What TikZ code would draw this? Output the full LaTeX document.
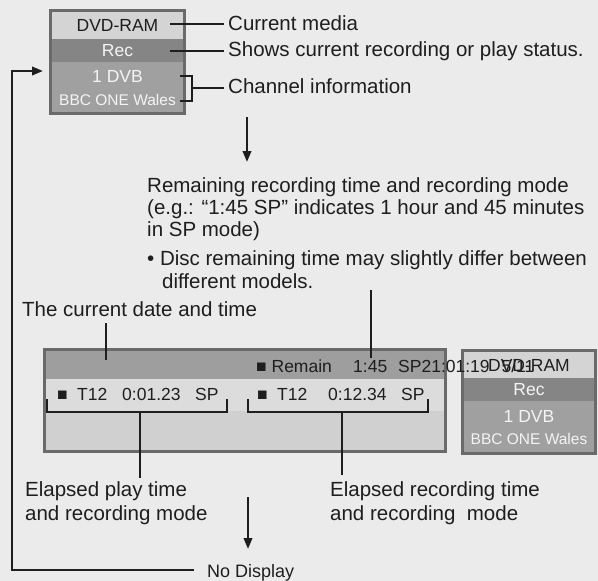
\documentclass[tikz,border=0pt]{standalone}
\usepackage{fontspec}
\setmainfont{Liberation Sans}
\usetikzlibrary{arrows.meta}
\definecolor{bg}{HTML}{EBEBEB}
\definecolor{ink}{HTML}{1E1E1E}
\definecolor{bord}{HTML}{6A6A6A}
\definecolor{rowlight}{HTML}{D4D4D4}
\definecolor{rowrec}{HTML}{858585}
\definecolor{rowlow}{HTML}{A0A0A0}
\definecolor{hdr}{HTML}{9E9E9E}
\definecolor{rowl}{HTML}{DCDCDC}
\definecolor{lowl}{HTML}{D0D0D0}
\definecolor{wtxt}{HTML}{F4F4F4}
\begin{document}
\begin{tikzpicture}[x=1pt,y=-1pt,
  inkline/.style={draw=ink, line width=2.2pt},
  lbl/.style={font=\fontsize{20.5}{22}\selectfont, text=ink, inner sep=0pt, anchor=base west},
  btxt/.style={font=\fontsize{17.5}{18}\selectfont, inner sep=0pt, text=ink},
  smtxt/.style={font=\fontsize{15.5}{16}\selectfont, inner sep=0pt, text=wtxt},
  arr/.style={inkline, -{Triangle[length=11pt,width=8.5pt]}},
  frame/.style={draw=bord, line width=3pt, inner sep=0pt},
]
\fill[bg] (0,0) rectangle (598,581);
\useasboundingbox (0,0) rectangle (598,581);

% ---- top status box ----
\node[frame, fill=rowlow, minimum width=134pt, minimum height=103pt] (topbox) at (117.5,62) {};
\node[btxt, fill=rowlight, minimum width=131pt, minimum height=27pt] (tdvd) at (117.5,25.5) {DVD-RAM};
\node[btxt, fill=rowrec, minimum width=131pt, minimum height=23pt, text=wtxt] (trec) at (117.5,50.5) {Rec};
\node[btxt, text=wtxt] (tdvb) at (117.5,76.5) {1 DVB};
\node[smtxt] (tbbc) at (117.5,99.5) {BBC ONE Wales};

% labels
\node[lbl] (lcur) at (228,30) {Current media};
\node[lbl] (lrec) at (228,56) {Shows current recording or play status.};
\node[lbl] (lch) at (228,93) {Channel information};
\coordinate (c1) at (170,24);
\coordinate (c2) at (170,51);
\coordinate (c3) at (192,88);
\draw[inkline, shorten >=4pt] (c1) -- (c1 -| lcur.west);
\draw[inkline, shorten >=4pt] (c2) -- (c2 -| lrec.west);
\draw[inkline] (180,76) -- (192,76) -- (192,101) -- (180,101);
\draw[inkline, shorten >=4pt] (c3) -- (c3 -| lch.west);

% arrow 1
\coordinate (a1s) at (247,117);
\coordinate (a1e) at (247,162);
\draw[arr] (a1s) -- (a1e);

% remaining text
\node[lbl] (r1) at (147,192) {Remaining recording time and recording mode};
\node[lbl] (r2) at (147,214) {(e.g.: “1:45 SP” indicates 1 hour and 45 minutes};
\node[lbl] (r3) at (147,236) {in SP mode)};
\node[lbl] (r4) at (147,265) {• Disc remaining time may slightly differ between};
\node[lbl] (r5) at (162,288) {different models.};
\node[lbl] (dt) at (22,316) {The current date and time};

% ---- big display box ----
\node[frame, fill=lowl, minimum width=401pt, minimum height=102pt] (bigbox) at (245,400.5) {};
\node[fill=hdr, minimum width=398pt, minimum height=28pt, inner sep=0pt] (hdrrow) at (245,365) {};
\node[fill=rowl, minimum width=398pt, minimum height=32pt, inner sep=0pt] (mainrow) at (245,395) {};

% right status box
\node[frame, fill=rowlow, minimum width=133pt, minimum height=103pt] (rbox) at (529,401.5) {};
\node[btxt, fill=rowlight, minimum width=130pt, minimum height=26pt] (rdvd) at (529,365) {DVD-RAM};
\node[btxt, fill=rowrec, minimum width=130pt, minimum height=23pt, text=wtxt] (rrec) at (529,389.5) {Rec};
\node[btxt, text=wtxt] (rdvb) at (529,416.5) {1 DVB};
\node[smtxt] (rbbc) at (529,439) {BBC ONE Wales};

% header texts
\node[btxt, anchor=base west] (rem) at (256,372) {■ Remain};
\node[btxt, anchor=base west] (r145) at (353,372) {1:45};
\node[btxt, anchor=base west] (rsp) at (398,372) {SP21:01:19\hspace{12pt}5/11};

% row texts
\node[btxt, anchor=base west] (p1) at (57,400) {■};
\node[btxt, anchor=base west] (p2) at (77,400) {T12};
\node[btxt, anchor=base west] (p3) at (122,400) {0:01.23};
\node[btxt, anchor=base west] (p4) at (195,400) {SP};
\node[btxt, anchor=base west] (q1) at (257,400) {■};
\node[btxt, anchor=base west] (q2) at (277,400) {T12};
\node[btxt, anchor=base west] (q3) at (328,400) {0:12.34};
\node[btxt, anchor=base west] (q4) at (401,400) {SP};

% brackets
\draw[inkline] (47,399) -- (47,412) -- (227,412) -- (227,399);
\draw[inkline] (248,399) -- (248,412) -- (428,412) -- (428,399);

% pointer lines
\coordinate (dtl) at (106,323);
\coordinate (dtb) at (106,360);
\draw[inkline] (dtl) -- (dtb);
\coordinate (rml) at (371,290);
\coordinate (rmb) at (371,358);
\draw[inkline] (rml) -- (rmb);

% bottom labels
\node[lbl] (e1) at (25,496) {Elapsed play time};
\node[lbl] (e2) at (25,520) {and recording mode};
\node[lbl] (f1) at (330,496) {Elapsed recording time};
\node[lbl] (f2) at (330,520) {and recording~ mode};
\coordinate (b1) at (140,412);
\coordinate (b2) at (342,412);
\draw[inkline] (b1) -- (140,478);
\draw[inkline] (b2) -- (342,475);

% arrow 2
\coordinate (a2s) at (248,497);
\coordinate (a2e) at (248,549);
\draw[arr] (a2s) -- (a2e);

% no display loop
\node[lbl, font=\fontsize{18}{18}\selectfont] (nd) at (207,577) {No Display};
\coordinate (lb) at (12,570);
\coordinate (lt) at (12,71);
\draw[arr] ([xshift=-13pt]nd.west |- lb) -- (lb) -- (lt) -- ([xshift=-6pt]topbox.west |- lt);
\end{tikzpicture}
\end{document}
